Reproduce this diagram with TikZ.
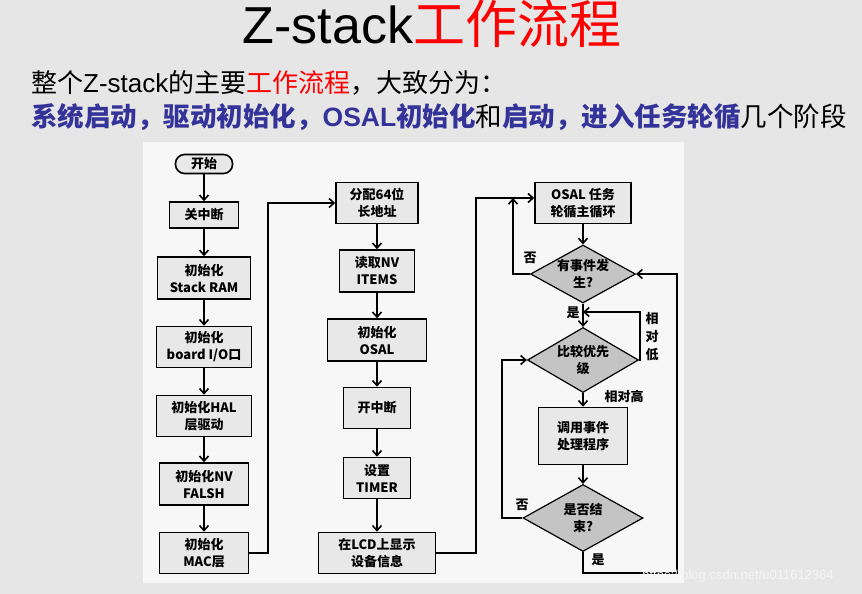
\documentclass[tikz,border=0pt]{standalone}
\usepackage{fontspec}
\setmainfont{Liberation Serif}
\newfontfamily\zh{Noto Sans CJK SC}
\newfontfamily\sans{Liberation Sans}
\usetikzlibrary{shapes.geometric,arrows.meta}
\definecolor{bg}{HTML}{E6E6E6}
\definecolor{panel}{HTML}{F7F7F7}
\definecolor{boxf}{HTML}{E8E8E8}
\definecolor{diaf}{HTML}{C4C4C4}
\definecolor{tblue}{HTML}{333399}
\tikzset{
  box/.style={draw=black,line width=1.6pt,fill=boxf,align=center,inner sep=0pt,font=\zh\bfseries\fontsize{13}{17}\selectfont},
  dia/.style={draw=black,line width=1.2pt,fill=diaf,diamond,aspect=1.8,inner sep=0pt,align=center,font=\zh\bfseries\fontsize{13}{17}\selectfont},
  lab/.style={font=\zh\bfseries\fontsize{13}{15}\selectfont,inner sep=0pt},
  arr/.style={line width=2.4pt,-{Straight Barb[length=5pt,width=9pt,line width=1.6pt]}}
}
\begin{document}
\begin{tikzpicture}[x=1pt,y=-1pt]
\useasboundingbox (0,0) rectangle (862,594);
\fill[bg] (0,0) rectangle (862,594);
\fill[panel] (143,142) rectangle (684,583);
% title
\node[inner sep=0pt] (title) at (432,24) {\sans\fontsize{52}{56}\selectfont Z-stack\textcolor{red}{\zh 工作流程}};
\node[anchor=west,inner sep=0pt] (l1) at (31,83) {\zh\fontsize{26}{30}\selectfont 整个{\sans Z-stack}的主要\textcolor{red}{工作流程}，大致分为：};
\node[anchor=west,inner sep=0pt] (l2) at (31,117) {\zh\bfseries\fontsize{26.5}{30}\selectfont\color{tblue}系统启动，驱动初始化，{\sans\bfseries OSAL}初始化\textcolor{black}{\mdseries 和}启动，进入任务轮循\textcolor{black}{\mdseries 几个阶段}};
% column 1
\node[box,rounded corners=9pt,minimum width=57pt,minimum height=19pt] (start) at (204,164) {开始};
\node[box,minimum width=69pt,minimum height=26pt] (a1) at (204,215) {关中断};
\node[box,minimum width=93pt,minimum height=42pt] (a2) at (204,278) {初始化\\ Stack RAM};
\node[box,minimum width=95pt,minimum height=41pt] (a3) at (204,347) {初始化\\ board I/O口};
\node[box,minimum width=95pt,minimum height=41pt] (a4) at (204,416) {初始化HAL\\ 层驱动};
\node[box,minimum width=89pt,minimum height=42pt] (a5) at (204,484) {初始化NV\\ FALSH};
\node[box,minimum width=89pt,minimum height=41pt] (a6) at (204,553) {初始化\\ MAC层};
% column 2
\node[box,minimum width=82pt,minimum height=41pt] (b1) at (377,203) {分配64位\\ 长地址};
\node[box,minimum width=75pt,minimum height=42pt] (b2) at (377,271) {读取NV\\ ITEMS};
\node[box,minimum width=99pt,minimum height=42pt] (b3) at (377,340) {初始化\\ OSAL};
\node[box,minimum width=67pt,minimum height=41pt] (b4) at (377,408) {开中断};
\node[box,minimum width=67pt,minimum height=41pt] (b5) at (377,478) {设置\\ TIMER};
\node[box,minimum width=117pt,minimum height=41pt] (b6) at (377,553) {在LCD上显示\\ 设备信息};
% column 3
\node[box,minimum width=96pt,minimum height=41pt] (c1) at (583,203) {OSAL 任务\\ 轮循主循环};
\node[dia,minimum width=105pt,minimum height=58pt] (d1) at (583,274) {有事件发\\ 生?};
\node[dia,minimum width=111pt,minimum height=65pt] (d2) at (583,360) {比较优先\\ 级};
\node[box,minimum width=89pt,minimum height=57pt] (c2) at (583,436) {调用事件\\ 处理程序};
\node[dia,minimum width=120pt,minimum height=67pt] (d3) at (583,518) {是否结\\ 束?};
\coordinate (p1) at (268,553); \coordinate (p2) at (268,203);
\coordinate (q1) at (476,553); \coordinate (q2) at (476,198);
\coordinate (r1) at (513,274); \coordinate (r2) at (513,198);
\coordinate (s1) at (640,360); \coordinate (s2) at (640,312); \coordinate (s3) at (583,312);
\coordinate (t1) at (502,518); \coordinate (t2) at (502,360);
\coordinate (u1) at (583,573); \coordinate (u2) at (677,573); \coordinate (u3) at (677,274);
% arrows
\draw[arr] (start) -- (a1);
\draw[arr] (a1) -- (a2);
\draw[arr] (a2) -- (a3);
\draw[arr] (a3) -- (a4);
\draw[arr] (a4) -- (a5);
\draw[arr] (a5) -- (a6);
\draw[arr] (a6.east) -- (p1) -- (p2) -- (b1.west);
\draw[arr] (b1) -- (b2);
\draw[arr] (b2) -- (b3);
\draw[arr] (b3) -- (b4);
\draw[arr] (b4) -- (b5);
\draw[arr] (b5) -- (b6);
\draw[arr] (b6.east) -- (q1) -- (q2) -- (c1.west |- q2);
\draw[arr] (c1) -- (d1);
\draw[arr] (d1.west) -- (r1) -- (r2);
\draw[arr] (d1.south) -- (d2.north);
\draw[arr] (d2.east) -- (s1) -- (s2) -- (s3);
\draw[arr] (d2.south) -- (c2.north);
\draw[arr] (c2.south) -- (d3.north);
\draw[arr] (d3.west) -- (t1) -- (t2) -- (d2.west);
\draw[arr] (d3.south) -- (u1) -- (u2) -- (u3) -- (d1.east);
% labels
\node[lab] (n1) at (530,258) {否};
\node[lab] (n2) at (573,313) {是};
\node[lab,align=center,font=\zh\bfseries\fontsize{13}{18}\selectfont] (n3) at (652,337) {相\\对\\低};
\node[lab] (n4) at (624,396) {相对高};
\node[lab] (n5) at (522,505) {否};
\node[lab] (n6) at (598,560) {是};
\node[inner sep=0pt,text=white!92!gray,font=\sans\fontsize{13}{14}\selectfont] (wm) at (738,576) {https://blog.csdn.net/u011612364};
\end{tikzpicture}
\end{document}
